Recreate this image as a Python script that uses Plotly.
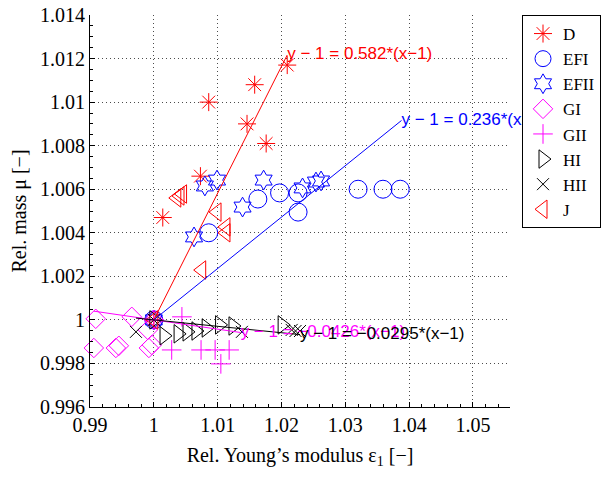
import plotly.graph_objects as go

# ---------------- data ----------------
D_x = [1.0, 1.0014, 1.0073, 1.0086, 1.0146, 1.0158, 1.0176, 1.0209]
D_y = [1.0, 1.0047, 1.0066, 1.0100, 1.0090, 1.0108, 1.0081, 1.0117]

EFI_x = [1.0, 1.0086, 1.0163, 1.0197, 1.0226, 1.0226, 1.0320, 1.0359, 1.0386]
EFI_y = [1.0, 1.0040, 1.00555, 1.00583, 1.00583, 1.00495, 1.0060, 1.0060, 1.0060]

EFII_x = [1.0, 1.0063, 1.0080, 1.0099, 1.0139, 1.0172, 1.0233, 1.0254, 1.0262]
EFII_y = [1.0, 1.00381, 1.00615, 1.00642, 1.00518, 1.00642, 1.00606, 1.00633, 1.00638]

GI_x = [1.0, 0.9909, 0.99655, 0.9906, 0.99405, 0.99452, 0.99922, 0.99969, 0.99906]
GI_y = [1.0, 1.00005, 1.00014, 0.99871, 0.99871, 0.99881, 0.99871, 0.99885, 0.99954]

GII_x = [1.0, 1.0028, 1.0044, 1.0074, 1.0096, 1.0118, 1.0105]
GII_y = [1.0, 0.99862, 1.00014, 0.99862, 0.99862, 0.99862, 0.99798]

HI_x = [1.0, 1.0016, 1.0038, 1.0052, 1.0066, 1.0082, 1.0103, 1.0124, 1.0201]
HI_y = [1.0, 0.99927, 0.99936, 0.99945, 0.99949, 0.99963, 0.99977, 0.99972, 0.99977]

HII_x = [1.0, 0.9972, 1.0138, 1.0216, 1.0222, 1.0229]
HII_y = [1.0, 0.99945, 0.99945, 0.99954, 0.99949, 0.99949]

J_x = [1.0, 1.0036, 1.0041, 1.0045, 1.0099, 1.0113, 1.0113, 1.0075]
J_y = [1.0, 1.0056, 1.00569, 1.00578, 1.00495, 1.00427, 1.0040, 1.00229]

# linear fits  y - 1 = k*(x - 1)
fit_slopes = [0.582, 0.236, -0.0426, -0.0295]
fit_x0 = [1.0, 1.0, 0.9906, 0.9972]
fit_x1 = [1.0209, 1.0388, 1.0136, 1.0229]
fit_labels = ["y − 1 = 0.582*(x−1)", "y − 1 = 0.236*(x−1)",
              "y − 1 = −0.0426*(x−1)", "y − 1 = −0.0295*(x−1)"]
fit_colors = ["#ff0000", "#0000ff", "#ff00ff", "#000000"]

x_ticks = [0.99, 1.0, 1.01, 1.02, 1.03, 1.04, 1.05]
x_ticktext = ["0.99", "1", "1.01", "1.02", "1.03", "1.04", "1.05"]
y_ticks = [0.996, 0.998, 1.0, 1.002, 1.004, 1.006, 1.008, 1.010, 1.012, 1.014]
y_ticktext = ["0.996", "0.998", "1", "1.002", "1.004", "1.006", "1.008", "1.01", "1.012", "1.014"]

# ---------------- figure ----------------
SERIF = "Liberation Serif, Times New Roman, serif"
SANS = "Liberation Sans, Arial, Helvetica, sans-serif"

series = [
    ("D", D_x, D_y, "asterisk-open", 15, "#ff0000"),
    ("EFI", EFI_x, EFI_y, "circle-open", 18, "#0000ff"),
    ("EFII", EFII_x, EFII_y, "hexagram-open", 15, "#0000ff"),
    ("GI", GI_x, GI_y, "diamond-open", 15, "#ff00ff"),
    ("GII", GII_x, GII_y, "cross-thin-open", 14, "#ff00ff"),
    ("HI", HI_x, HI_y, "triangle-right-open", 16, "#000000"),
    ("HII", HII_x, HII_y, "x-thin-open", 12, "#000000"),
    ("J", J_x, J_y, "triangle-left-open", 16, "#ff0000"),
]

fig = go.Figure()
for name, xs, ys, sym, size, col in series:
    fig.add_trace(go.Scatter(
        x=xs, y=ys, mode="markers", name=name,
        marker=dict(symbol=sym, size=size, color=col,
                    line=dict(color=col, width=1)),
        cliponaxis=False,
    ))

for k, x0, x1, lab, col in zip(fit_slopes, fit_x0, fit_x1, fit_labels, fit_colors):
    xs = [x0, x1]
    ys = [1 + k * (v - 1) for v in xs]
    fig.add_trace(go.Scatter(x=xs, y=ys, mode="lines", showlegend=False,
                             line=dict(color=col, width=1), hoverinfo="skip"))
for k, x1, lab, col in zip(fit_slopes, fit_x1, fit_labels, fit_colors):
    fig.add_trace(go.Scatter(
        x=[x1], y=[1 + k * (x1 - 1)], mode="text", text=[lab],
        textposition="middle right", showlegend=False, cliponaxis=False,
        textfont=dict(family=SANS, size=17, color=col), hoverinfo="skip"))

axis_common = dict(
    showline=True, linecolor="black", linewidth=1, mirror=False,
    ticks="inside", ticklen=5, tickcolor="black", tickwidth=1,
    showgrid=True, gridcolor="rgba(0,0,0,0.7)", gridwidth=1, griddash="1px,3px",
    zeroline=False,
    tickfont=dict(family=SERIF, size=20, color="black"),
)

fig.update_xaxes(
    range=[0.99, 1.0558], tickvals=x_ticks, ticktext=x_ticktext,
    title=dict(text="Rel. Young’s modulus ε<sub>1</sub> [−]",
               font=dict(family=SERIF, size=20, color="black"), standoff=12),
    minor=dict(ticks="inside", ticklen=3, dtick=0.002, tickcolor="black", showgrid=False),
    **axis_common,
)
fig.update_yaxes(
    range=[0.996, 1.014], tickvals=y_ticks, ticktext=y_ticktext,
    title=dict(text="Rel. mass μ [−]",
               font=dict(family=SERIF, size=20, color="black"), standoff=8),
    minor=dict(ticks="inside", ticklen=3, dtick=0.0005, tickcolor="black", showgrid=False),
    **axis_common,
)

fig.update_layout(
    width=605, height=481,
    margin=dict(l=90, r=95, t=15, b=74, autoexpand=False),
    paper_bgcolor="white", plot_bgcolor="white",
    legend=dict(
        x=1.0286, y=1.0, xanchor="left", yanchor="top",
        bgcolor="white", bordercolor="black", borderwidth=1,
        font=dict(family=SERIF, size=17, color="black"),
        tracegroupgap=0,
    ),
    showlegend=True,
)

fig.write_html("out.html")
